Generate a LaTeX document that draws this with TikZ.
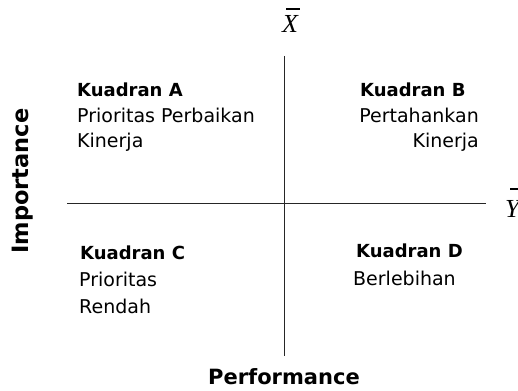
\documentclass[tikz,border=0pt]{standalone}
\usepackage{fontspec}
\setmainfont{DejaVu Sans}
\newfontfamily\serifit{Liberation Serif}
\usetikzlibrary{calc}
\begin{document}
\begin{tikzpicture}[x=1pt,y=-1pt,
  axisline/.style={line width=1pt, draw=black!85},
  qhead/.style={font=\fontsize{18}{20}\selectfont\bfseries, anchor=west, inner sep=0pt},
  qtext/.style={font=\fontsize{19}{21}\selectfont, anchor=west, inner sep=0pt},
  qtextr/.style={font=\fontsize{19}{21}\selectfont, anchor=east, inner sep=0pt},
  axlabel/.style={font=\fontsize{21}{24}\selectfont\bfseries, inner sep=0pt},
  barlabel/.style={font=\serifit\itshape\fontsize{26}{28}\selectfont, inner sep=0pt, anchor=base west},
  barline/.style={line width=1.1pt}]
\useasboundingbox (0,0) rectangle (518,390);
% axes
\coordinate (vtop) at (284,56);
\coordinate (vbot) at (284,356);
\coordinate (hleft) at (67,203);
\coordinate (hright) at (486,203);
\draw[axisline] (vtop) -- (vbot);
\draw[axisline] (hleft) -- (hright);
% axis mean labels
\node[barlabel] (xbar) at (282,33) {X};
\draw[barline] ($(xbar.base west)+(4,-24)$) -- ($(xbar.base west)+(18,-24)$);
\node[barlabel] (ybar) at (505,217) {Y};
\draw[barline] ($(ybar.base west)+(5,-28)$) -- ($(ybar.base west)+(19,-28)$);
% axis titles
\node[axlabel, font=\fontsize{22.5}{24}\selectfont\bfseries, rotate=90] (imp) at (23,181) {Importance};
\node[axlabel] (perf) at (284,377) {Performance};
% Kuadran A
\node[qhead] (ah) at (77,90) {Kuadran A};
\node[qtext] (a1) at (77,115) {Prioritas Perbaikan};
\node[qtext] (a2) at (77,142) {Kinerja};
% Kuadran B
\node[qhead] (bh) at (360,90) {Kuadran B};
\node[qtextr] (b1) at (479,115) {Pertahankan};
\node[qtextr] (b2) at (479,142) {Kinerja};
% Kuadran C
\node[qhead] (ch) at (80,253) {Kuadran C};
\node[qtext] (c1) at (79,279) {Prioritas};
\node[qtext] (c2) at (79,306) {Rendah};
% Kuadran D
\node[qhead] (dh) at (356,251) {Kuadran D};
\node[qtext] (d1) at (353,278) {Berlebihan};
\end{tikzpicture}
\end{document}
